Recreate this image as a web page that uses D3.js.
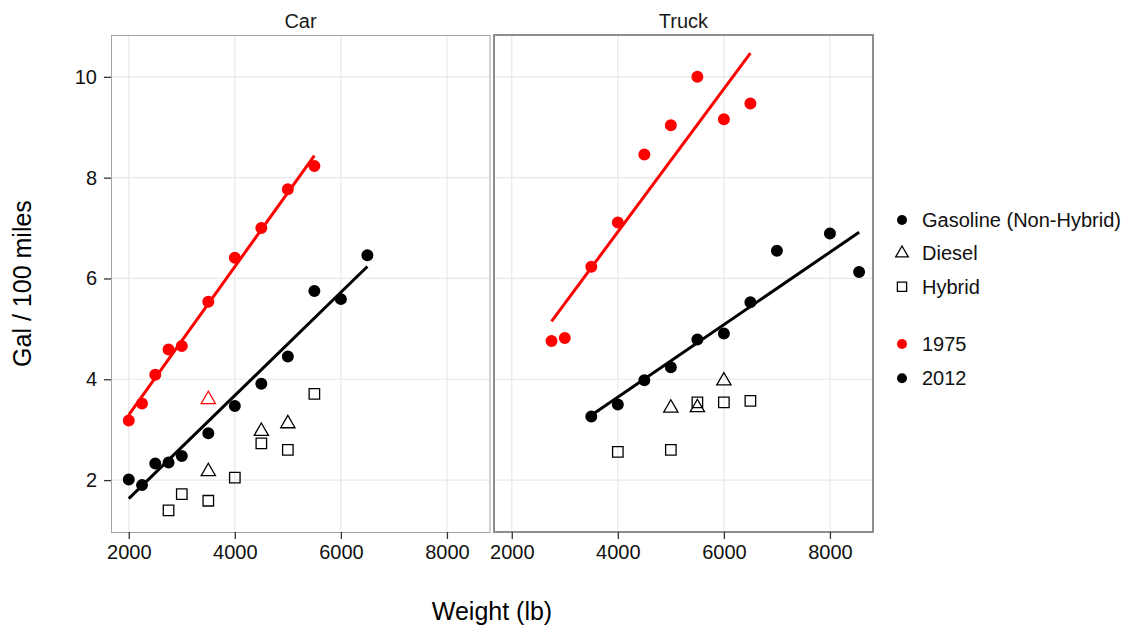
<!DOCTYPE html>
<html>
<head>
<meta charset="utf-8">
<script src="https://cdn.jsdelivr.net/npm/d3@7/dist/d3.min.js"></script>
<style>
  body { margin: 0; background: #fff; }
  text { font-family: "Liberation Sans", Arial, Helvetica, sans-serif; }
</style>
</head>
<body>
<div class="chart"></div>
<script>
// [weight (lb), gal / 100 miles]
const carGas1975 = [[2000, 3.18], [2250, 3.52], [2500, 4.09], [2750, 4.59], [3000, 4.66],
  [3500, 5.54], [4000, 6.41], [4500, 7.0], [5000, 7.77], [5500, 8.23]];
const carDiesel1975 = [[3500, 3.6]];
const carGas2012 = [[2000, 2.01], [2250, 1.9], [2500, 2.33], [2750, 2.35], [3000, 2.48],
  [3500, 2.93], [4000, 3.47], [4500, 3.91], [5000, 4.45], [5500, 5.75], [6000, 5.59], [6500, 6.46]];
const carDiesel2012 = [[3500, 2.17], [4500, 2.97], [5000, 3.12]];
const carHybrid2012 = [[2750, 1.4], [3000, 1.72], [3500, 1.59], [4000, 2.05], [4500, 2.73],
  [5000, 2.6], [5500, 3.71]];

const truckGas1975 = [[2750, 4.76], [3000, 4.82], [3500, 6.23], [4000, 7.11], [4500, 8.46],
  [5000, 9.04], [5500, 10.0], [6000, 9.16], [6500, 9.47]];
const truckGas2012 = [[3500, 3.26], [4000, 3.5], [4500, 3.98], [5000, 4.24], [5500, 4.79],
  [6000, 4.91], [6500, 5.53], [7000, 6.55], [8000, 6.89], [8550, 6.13]];
const truckDiesel2012 = [[5000, 3.43], [5500, 3.44], [6000, 3.97]];
const truckHybrid2012 = [[4000, 2.56], [5000, 2.6], [5500, 3.54], [6000, 3.54], [6500, 3.57]];

const facets = ["Car", "Truck"];
const xTicks = [2000, 4000, 6000, 8000];
const yTicks = [2, 4, 6, 8, 10];
const fuelTypes = ["Gasoline (Non-Hybrid)", "Diesel", "Hybrid"];
const years = ["1975", "2012"];

const yearColor = d3.scaleOrdinal().domain(years).range(["#ff0000", "#000000"]);

const panels = [
  {
    name: facets[0],
    points: [
      { fuel: "Gasoline (Non-Hybrid)", year: "1975", data: carGas1975 },
      { fuel: "Diesel", year: "1975", data: carDiesel1975 },
      { fuel: "Gasoline (Non-Hybrid)", year: "2012", data: carGas2012 },
      { fuel: "Diesel", year: "2012", data: carDiesel2012 },
      { fuel: "Hybrid", year: "2012", data: carHybrid2012 },
    ],
    fits: [
      { year: "1975", data: carGas1975 },
      { year: "2012", data: carGas2012 },
    ],
  },
  {
    name: facets[1],
    points: [
      { fuel: "Gasoline (Non-Hybrid)", year: "1975", data: truckGas1975 },
      { fuel: "Gasoline (Non-Hybrid)", year: "2012", data: truckGas2012 },
      { fuel: "Diesel", year: "2012", data: truckDiesel2012 },
      { fuel: "Hybrid", year: "2012", data: truckHybrid2012 },
    ],
    fits: [
      { year: "1975", data: truckGas1975 },
      { year: "2012", data: truckGas2012 },
    ],
  },
];

const width = 1138, height = 628;
const panelTop = 35, panelBottom = 532, panelW = 379;
const panelLeft = [111, 494];

const svg = d3
  .select(".chart")
  .append("svg")
  .attr("width", width)
  .attr("height", height);

const yScale = d3.scaleLinear().domain([0.97, 10.83]).range([panelBottom, panelTop]);

// simple least squares fit, like geom_smooth(method = "lm")
function lmLine(data) {
  const mx = d3.mean(data, (d) => d[0]);
  const my = d3.mean(data, (d) => d[1]);
  const sxy = d3.sum(data, (d) => (d[0] - mx) * (d[1] - my));
  const sxx = d3.sum(data, (d) => (d[0] - mx) ** 2);
  const b = sxy / sxx;
  const ext = d3.extent(data, (d) => d[0]);
  return ext.map((x) => [x, my + b * (x - mx)]);
}

function shapePath(fuel, big) {
  if (fuel === "Diesel") return d3.symbol(d3.symbolTriangle, big ? 88 : 70)();
  if (fuel === "Hybrid") return d3.symbol(d3.symbolSquare, big ? 110 : 85)();
  return d3.symbol(d3.symbolCircle, big ? 113 : 78)();
}

panels.forEach((p, i) => {
  const x0 = panelLeft[i];
  const xScale = d3.scaleLinear().domain([1665, 8812]).range([x0, x0 + panelW]);
  const g = svg.append("g");

  // grid
  g.selectAll(".vgrid")
    .data(xTicks)
    .enter()
    .append("line")
    .attr("x1", (d) => xScale(d))
    .attr("x2", (d) => xScale(d))
    .attr("y1", panelTop)
    .attr("y2", panelBottom)
    .attr("stroke", "#e8e8e8")
    .attr("stroke-width", 1.2);
  g.selectAll(".hgrid")
    .data(yTicks)
    .enter()
    .append("line")
    .attr("x1", x0)
    .attr("x2", x0 + panelW)
    .attr("y1", (d) => yScale(d))
    .attr("y2", (d) => yScale(d))
    .attr("stroke", "#e8e8e8")
    .attr("stroke-width", 1.2);

  // points
  p.points.forEach((s) => {
    const filled = s.fuel === "Gasoline (Non-Hybrid)";
    g.selectAll(null)
      .data(s.data)
      .enter()
      .append("path")
      .attr("d", shapePath(s.fuel, true))
      .attr("transform", (d) => `translate(${xScale(d[0])},${yScale(d[1])})`)
      .attr("fill", filled ? yearColor(s.year) : "none")
      .attr("stroke", yearColor(s.year))
      .attr("stroke-width", filled ? 0 : 1.3);
  });

  // fitted lines
  const line = d3.line().x((d) => xScale(d[0])).y((d) => yScale(d[1]));
  p.fits.forEach((f) => {
    g.append("path")
      .datum(lmLine(f.data))
      .attr("d", line)
      .attr("fill", "none")
      .attr("stroke", yearColor(f.year))
      .attr("stroke-width", 3);
  });

  // panel border
  if (i === 0) {
    g.append("rect")
      .attr("x", x0 + 0.5)
      .attr("y", panelTop + 0.5)
      .attr("width", panelW - 0.5)
      .attr("height", panelBottom - panelTop)
      .attr("fill", "none")
      .attr("stroke", "#a3a3a3")
      .attr("stroke-width", 1);
  } else {
    g.append("rect")
      .attr("x", x0)
      .attr("y", panelTop)
      .attr("width", panelW)
      .attr("height", panelBottom - panelTop)
      .attr("fill", "none")
      .attr("stroke", "#8e8e8e")
      .attr("stroke-width", 2);
  }

  // strip label
  svg.append("text")
    .attr("x", x0 + panelW / 2)
    .attr("y", 28)
    .attr("text-anchor", "middle")
    .attr("font-size", "20px")
    .attr("fill", "#1a1a1a")
    .text(p.name);

  // x axis
  const xAxis = d3.axisBottom(xScale).tickValues(xTicks).tickSize(7).tickPadding(6).tickFormat(d3.format("d"));
  const ax = svg.append("g")
    .attr("class", "axis x-axis")
    .attr("transform", `translate(0, ${panelBottom})`)
    .call(xAxis);
  ax.select(".domain").remove();
  ax.selectAll("line").attr("stroke", "#333").attr("stroke-width", 1.3);
  ax.selectAll("text").attr("font-size", "20px").attr("fill", "#111");

  if (i === 0) {
    const yAxis = d3.axisLeft(yScale).tickValues(yTicks).tickSize(7).tickPadding(7);
    const ay = svg.append("g")
      .attr("class", "axis y-axis")
      .attr("transform", `translate(${x0}, 0)`)
      .call(yAxis);
    ay.select(".domain").remove();
    ay.selectAll("line").attr("stroke", "#333").attr("stroke-width", 1.3);
    ay.selectAll("text").attr("font-size", "20px").attr("fill", "#111");
  }
});

// axis titles
svg.append("text")
  .attr("x", (panelLeft[0] + panelLeft[1] + panelW) / 2)
  .attr("y", 620)
  .attr("text-anchor", "middle")
  .attr("font-size", "25px")
  .text("Weight (lb)");

svg.append("text")
  .attr("transform", `translate(31, ${(panelTop + panelBottom) / 2}) rotate(-90)`)
  .attr("text-anchor", "middle")
  .attr("font-size", "25px")
  .text("Gal / 100 miles");

// legends
const legendX = 902;
const shapeRows = [220, 253.3, 286.7];
const colorRows = [344, 378.3];

const lg = svg.append("g");
lg.selectAll(".shapeKey")
  .data(fuelTypes)
  .enter()
  .append("path")
  .attr("d", (d) => shapePath(d, false))
  .attr("transform", (d, i) => `translate(${legendX},${shapeRows[i]})`)
  .attr("fill", (d) => (d === "Gasoline (Non-Hybrid)" ? "#000" : "none"))
  .attr("stroke", "#000")
  .attr("stroke-width", (d) => (d === "Gasoline (Non-Hybrid)" ? 0 : 1.3));
lg.selectAll(".shapeLabel")
  .data(fuelTypes)
  .enter()
  .append("text")
  .attr("x", legendX + 20)
  .attr("y", (d, i) => shapeRows[i] + 7)
  .attr("font-size", "20px")
  .attr("fill", "#111")
  .text((d) => d);

lg.selectAll(".colorKey")
  .data(years)
  .enter()
  .append("path")
  .attr("d", shapePath("Gasoline (Non-Hybrid)", false))
  .attr("transform", (d, i) => `translate(${legendX},${colorRows[i]})`)
  .attr("fill", (d) => yearColor(d));
lg.selectAll(".colorLabel")
  .data(years)
  .enter()
  .append("text")
  .attr("x", legendX + 20)
  .attr("y", (d, i) => colorRows[i] + 7)
  .attr("font-size", "20px")
  .attr("fill", "#111")
  .text((d) => d);
</script>
</body>
</html>
